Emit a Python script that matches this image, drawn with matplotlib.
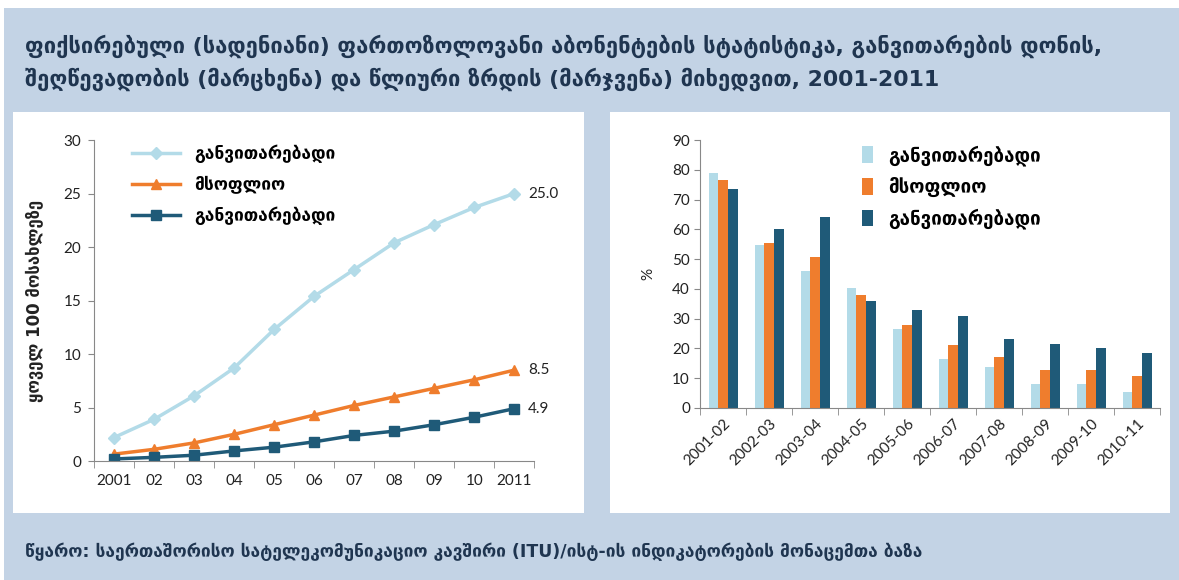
import matplotlib
matplotlib.use("Agg")
import matplotlib.pyplot as plt
import numpy as np
from matplotlib.patches import Rectangle

plt.rcParams['font.family'] = ['Lato', 'DejaVu Sans']

# left chart: penetration per 100 inhabitants
years = ["2001", "02", "03", "04", "05", "06", "07", "08", "09", "10", "2011"]
developed = [2.2, 3.9, 6.1, 8.7, 12.3, 15.4, 17.9, 20.4, 22.1, 23.7, 25.0]
world = [0.65, 1.1, 1.7, 2.5, 3.4, 4.3, 5.2, 6.0, 6.8, 7.6, 8.5]
developing = [0.2, 0.35, 0.55, 0.95, 1.3, 1.8, 2.4, 2.8, 3.4, 4.1, 4.9]

# right chart: annual growth, %
periods = ["2001-02", "2002-03", "2003-04", "2004-05", "2005-06",
           "2006-07", "2007-08", "2008-09", "2009-10", "2010-11"]
growth_developed = [79, 54.6, 46, 40.4, 26.4, 16.5, 13.9, 8, 8, 5.2]
growth_world = [76.6, 55.4, 50.7, 38.1, 27.9, 21, 17.2, 12.6, 12.6, 10.7]
growth_developing = [73.6, 60, 64, 35.9, 33, 31, 23.3, 21.4, 20.1, 18.3]

labels = ["განვითარებადი", "მსოფლიო", "განვითარებადი"]
title = ("ფიქსირებული (სადენიანი) ფართოზოლოვანი აბონენტების სტატისტიკა, განვითარების დონის,\n"
         "შეღწევადობის (მარცხენა) და წლიური ზრდის (მარჯვენა) მიხედვით, 2001-2011")
ylabel_left = "ყოველ 100 მოსახლეზე"
source = ("წყარო: საერთაშორისო სატელეკომუნიკაციო კავშირი (ITU)/ისტ-ის "
          "ინდიკატორების მონაცემთა ბაზა")

c_light = "#b3dbe8"
c_orange = "#ef7d2d"
c_dark = "#1f5a78"
c_text = "#1f3550"
c_bg = "#c3d3e5"

fig = plt.figure(figsize=(11.79, 5.80), dpi=100)
fig.patch.set_facecolor("white")
fig.patches.append(Rectangle((0.003, 0), 0.997, 0.986, transform=fig.transFigure,
                             facecolor=c_bg, edgecolor="none", zorder=-3))
# white panels
for x0, w in [(0.011, 0.4843), (0.5174, 0.475)]:
    fig.patches.append(Rectangle((x0, 0.1155), w, 0.691, transform=fig.transFigure,
                                 facecolor="white", edgecolor="none", zorder=-2))

fig.text(0.021, 0.892, title, fontsize=15.8, fontweight="bold", color=c_text,
         va="center", ha="left", linespacing=1.5, family=["DejaVu Sans"])
fig.text(0.021, 0.048, source, fontsize=12.5, fontweight="bold", color=c_text,
         va="center", ha="left", family=["DejaVu Sans"])

# ---- left: line chart
ax1 = fig.add_axes([0.0797, 0.205, 0.3735, 0.5536])
x = np.arange(len(years))
ax1.plot(x, developed, color=c_light, marker="D", markersize=6, lw=2.5, label=labels[0])
ax1.plot(x, world, color=c_orange, marker="^", markersize=7, lw=2.5, label=labels[1])
ax1.plot(x, developing, color=c_dark, marker="s", markersize=6.5, lw=2.5, label=labels[2])
ax1.set_xlim(-0.5, len(years) - 0.5)
ax1.set_ylim(0, 30)
ax1.set_yticks(range(0, 31, 5))
ax1.set_xticks(x)
ax1.set_xticklabels(years)
ax1.set_xticks(np.arange(-0.5, len(years), 1), minor=True)
ax1.tick_params(axis="x", which="major", length=0, labelsize=11, pad=9, colors="#222222")
ax1.tick_params(axis="x", which="minor", length=5, direction="out", color="#888888")
ax1.tick_params(axis="y", length=4, labelsize=11, colors="#222222", pad=5)
ax1.tick_params(axis="y", color="#888888")
for s in ["top", "right"]:
    ax1.spines[s].set_visible(False)
for s in ["left", "bottom"]:
    ax1.spines[s].set_color("#888888")
for vals in [developed, world, developing]:
    ax1.annotate(f"{vals[-1]:.1f}", (x[-1], vals[-1]), xytext=(10, 0),
                 textcoords="offset points", va="center", ha="left",
                 fontsize=11, color="#222222")
ax1.set_ylabel(ylabel_left, fontsize=12, fontweight="bold", color="#222222",
               family=["DejaVu Sans"], labelpad=14)
ax1.legend(loc="upper left", bbox_to_anchor=(0.05, 1.035), frameon=False,
           handlelength=2.8, labelspacing=0.75, prop={"family": "DejaVu Sans",
                                                      "weight": "bold", "size": 12.5})

# ---- right: grouped bars
ax2 = fig.add_axes([0.594, 0.2966, 0.390, 0.462])
xp = np.arange(len(periods))
w = 0.21
b1 = ax2.bar(xp - w, growth_developed, w, color=c_light, label=labels[0])
b2 = ax2.bar(xp, growth_world, w, color=c_orange, label=labels[1])
b3 = ax2.bar(xp + w, growth_developing, w, color=c_dark, label=labels[2])
ax2.set_xlim(-0.5, len(periods) - 0.5)
ax2.set_ylim(0, 90)
ax2.set_yticks(range(0, 91, 10))
ax2.set_xticks(xp)
ax2.set_xticklabels(periods, rotation=45, ha="right", rotation_mode="anchor")
ax2.set_xticks(np.arange(-0.5, len(periods), 1), minor=True)
ax2.tick_params(axis="x", which="major", length=0, labelsize=11, pad=6, colors="#222222")
ax2.tick_params(axis="x", which="minor", length=5, direction="out", color="#888888")
ax2.tick_params(axis="y", length=4, labelsize=11, colors="#222222", color="#888888")
for s in ["top", "right"]:
    ax2.spines[s].set_visible(False)
for s in ["left", "bottom"]:
    ax2.spines[s].set_color("#888888")
ax2.set_ylabel("%", fontsize=11, color="#222222", labelpad=12)
ax2.legend(loc="upper left", bbox_to_anchor=(0.315, 1.045), frameon=False,
           handlelength=0.6, handleheight=1.0, handletextpad=0.8, labelspacing=0.6,
           prop={"family": "DejaVu Sans", "weight": "bold", "size": 13.5})

fig.savefig("out.png", dpi=100)
